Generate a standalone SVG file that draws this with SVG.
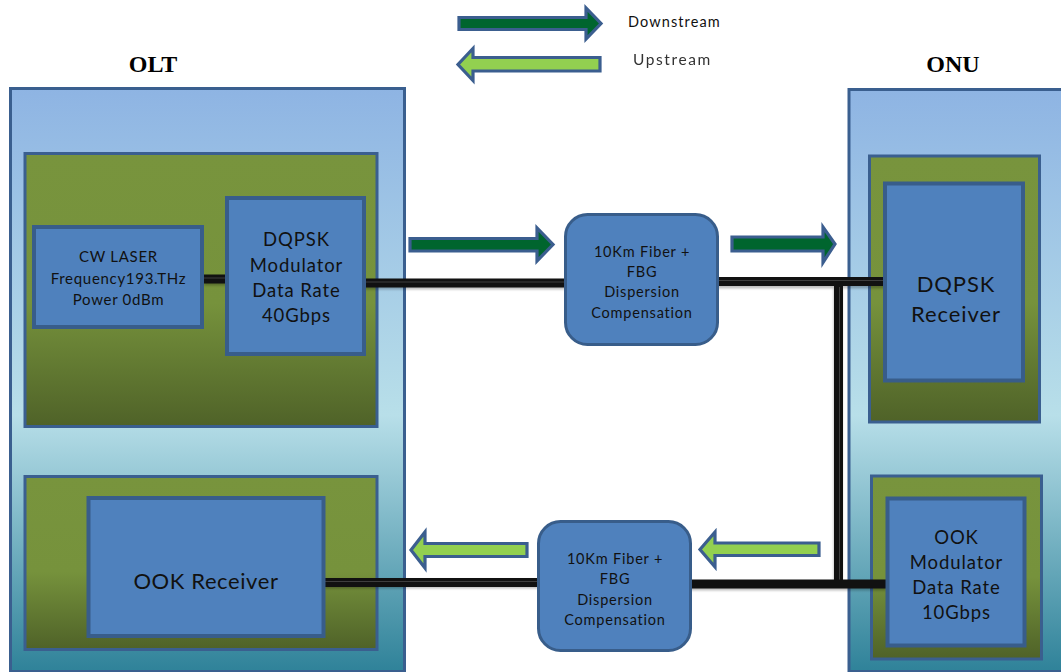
<svg xmlns="http://www.w3.org/2000/svg" width="1061" height="672" viewBox="0 0 1061 672">
<defs>
<linearGradient id="gOuter" x1="0" y1="0" x2="0" y2="1">
<stop offset="0" stop-color="#8eb4e3"/>
<stop offset="0.56" stop-color="#b8dfe9"/>
<stop offset="1" stop-color="#2f8299"/>
</linearGradient>
<linearGradient id="gGreen" x1="0" y1="0" x2="0" y2="1">
<stop offset="0" stop-color="#78943d"/>
<stop offset="0.55" stop-color="#76923c"/>
<stop offset="1" stop-color="#4f6228"/>
</linearGradient>
<filter id="soft" x="-5%" y="-20%" width="110%" height="140%"><feGaussianBlur stdDeviation="0.6"/></filter>
<filter id="shadow" x="-5%" y="-50%" width="110%" height="200%"><feGaussianBlur stdDeviation="1.2"/></filter>
</defs>
<style>
.outer{fill:url(#gOuter);stroke:#3a5f8f;stroke-width:3}
.panel{fill:url(#gGreen);stroke:#3a5f8f;stroke-width:3}
.blk{fill:#4f81bd;stroke:#385d8a;stroke-width:4}
.fiber{fill:#4f81bd;stroke:#385d8a;stroke-width:3}
.t{font-family:Lato,"Liberation Sans",sans-serif;fill:#111;text-anchor:middle}
.title{font-family:"Liberation Serif",serif;font-weight:bold;font-size:24px;fill:#000;text-anchor:middle}
.wire{stroke:#111;stroke-width:9;fill:none}
.wire-hi{stroke:#4a4a4a;stroke-width:0.8;fill:none}
.wire-sh{stroke:#000;stroke-width:9;fill:none;opacity:0.25;filter:url(#shadow)}
.down{fill:#00652e;stroke:#3b5e8f;stroke-width:3.2;stroke-linejoin:miter}
.up{fill:#92d050;stroke:#3b5e8f;stroke-width:3.2;stroke-linejoin:miter}
.s15{font-size:15px;letter-spacing:0.7px}
.s18{font-size:18.5px;letter-spacing:0.9px}
.s22{font-size:22px;letter-spacing:0.9px}
.s14{font-size:14.5px;letter-spacing:0.8px}
</style>
<rect width="1061" height="672" fill="#ffffff"/>

<g id="legend">
<path class="down" d="M459,17.5 L586,17.5 L586,8 L601,23.5 L586,39 L586,29.5 L459,29.5 Z"/>
<text x="628" y="27" font-family="Lato,'Liberation Sans',sans-serif" font-size="14.5" letter-spacing="1.1" fill="#111">Downstream</text>
<path class="up" d="M600,57.5 L473,57.5 L473,48.5 L458,64.5 L473,80.5 L473,71 L600,71 Z"/>
<text x="633" y="64.5" font-family="Lato,'Liberation Sans',sans-serif" font-size="15.5" letter-spacing="1.6" fill="#333" filter="url(#soft)">Upstream</text>
</g>

<g id="olt">
<rect class="outer" x="10.5" y="88.5" width="394" height="583"/>
<text class="title" x="153" y="72">OLT</text>
</g>
<g id="olt-tx-panel"><rect class="panel" x="25" y="153.5" width="352" height="273"/></g>
<g id="olt-rx-panel"><rect class="panel" x="25" y="476.5" width="352" height="173"/></g>

<g id="onu">
<rect class="outer" x="849" y="89.5" width="216" height="582"/>
<text class="title" x="953" y="72">ONU</text>
</g>
<g id="onu-rx-panel"><rect class="panel" x="869.5" y="156" width="170" height="266"/></g>
<g id="onu-tx-panel"><rect class="panel" x="871.5" y="476" width="170" height="183"/></g>

<g id="connectors">
<path class="wire-sh" d="M204,281 H226 M365,285 H565 M718,284 H885 M838,288 V588 M325,584 H538 M690,586 H886"/>
<path class="wire" d="M203,279 H226"/>
<path class="wire-hi" d="M203,278 H226"/>
<path class="wire" d="M365,283 H565"/>
<path class="wire-hi" d="M365,282 H565"/>
<path class="wire" d="M718,281.5 H885"/>
<path class="wire-hi" d="M718,280.5 H885"/>
<path class="wire" d="M838.5,286 V584"/>
<path class="wire-hi" d="M839.5,287 V580"/>
<path class="wire" d="M325,582.5 H540"/>
<path class="wire-hi" d="M325,581.5 H540"/>
<path class="wire" d="M688,584 H886"/>
</g>

<g id="cw-laser">
<rect class="blk" x="34" y="227" width="168" height="100"/>
<text class="t s15" x="118.5" y="262">CW LASER</text>
<text class="t s15" x="118.5" y="283.5">Frequency193.THz</text>
<text class="t s15" x="118.5" y="305">Power 0dBm</text>
</g>

<g id="dqpsk-modulator">
<rect class="blk" x="227" y="198" width="137" height="156"/>
<text class="t s18" x="296.5" y="246">DQPSK</text>
<text class="t s18" x="296.5" y="271.5">Modulator</text>
<text class="t s18" x="296.5" y="297">Data Rate</text>
<text class="t s18" x="296.5" y="322">40Gbps</text>
</g>

<g id="ook-receiver">
<rect class="blk" x="88.5" y="498" width="235" height="138"/>
<text class="t s22" x="206" y="589" style="letter-spacing:0.6px">OOK Receiver</text>
</g>

<g id="dqpsk-receiver">
<rect class="blk" x="885" y="183.5" width="138" height="197"/>
<text class="t s22" x="956" y="292">DQPSK</text>
<text class="t s22" x="956" y="322">Receiver</text>
</g>

<g id="ook-modulator">
<rect class="blk" x="887.5" y="498.5" width="137" height="147"/>
<text class="t s18" x="956.5" y="544">OOK</text>
<text class="t s18" x="956.5" y="569">Modulator</text>
<text class="t s18" x="956.5" y="594">Data Rate</text>
<text class="t s18" x="956.5" y="619">10Gbps</text>
</g>

<g id="fiber-downstream">
<rect class="fiber" x="565.5" y="214.5" width="152" height="130" rx="22" ry="22"/>
<text class="t s14" x="642" y="257">10Km Fiber +</text>
<text class="t s14" x="642" y="276.5">FBG</text>
<text class="t s14" x="642" y="297">Dispersion</text>
<text class="t s14" x="642" y="317.5">Compensation</text>
</g>

<g id="fiber-upstream">
<rect class="fiber" x="538.5" y="521.5" width="152" height="129" rx="22" ry="22"/>
<text class="t s14" x="615" y="564">10Km Fiber +</text>
<text class="t s14" x="615" y="584">FBG</text>
<text class="t s14" x="615" y="605">Dispersion</text>
<text class="t s14" x="615" y="625">Compensation</text>
</g>

<g id="flow-arrows">
<path class="down" d="M410,238.5 L537,238.5 L537,228 L553,244.5 L537,261 L537,251 L410,251 Z"/>
<path class="down" d="M732,237 L823,237 L823,227 L835,244 L823,262.5 L823,251 L732,251 Z"/>
<path class="up" d="M527,543.5 L425,543.5 L425,532 L411,550 L425,568 L425,556.5 L527,556.5 Z"/>
<path class="up" d="M819,543 L715,543 L715,532 L700,549.5 L715,567 L715,555.5 L819,555.5 Z"/>
</g>
</svg>
